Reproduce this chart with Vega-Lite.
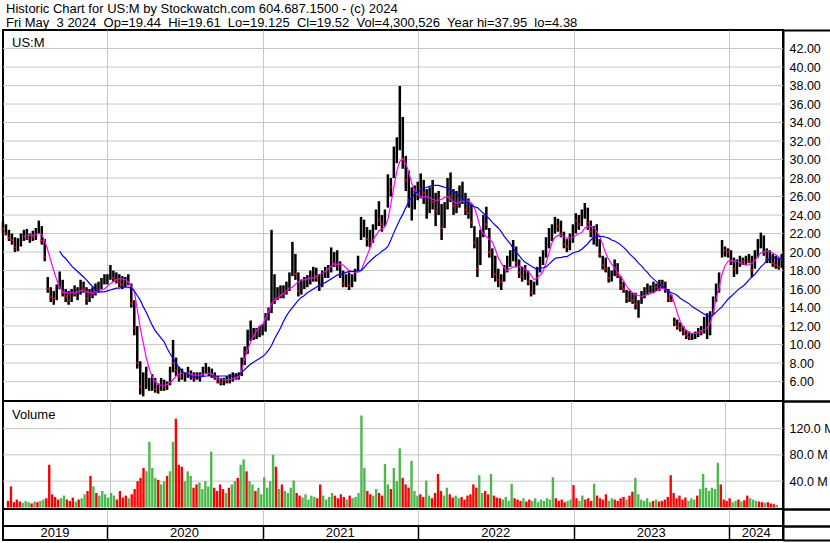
{
"$schema":"https://vega.github.io/schema/vega-lite/v6.json",
"padding":{"top":3,"left":0,"right":0,"bottom":0},
"background":"white",
"spacing":0,
"bounds":"flush",
"title":{"text":["Historic Chart for US:M by Stockwatch.com 604.687.1500 - (c) 2024","Fri May\u00a0 3 2024\u00a0 Op=19.44\u00a0 Hi=19.61\u00a0 Lo=19.125\u00a0 Cl=19.52\u00a0 Vol=4,300,526\u00a0 Year hi=37.95\u00a0 lo=4.38"],"anchor":"start","frame":"group","font":"Liberation Sans","fontSize":13,"fontWeight":"normal","color":"black","lineHeight":14,"offset":-2,"dx":3},
"config":{"view":{"stroke":"black","strokeWidth":2},"axis":{"gridColor":"#c6c6c6","gridWidth":1,"labelFont":"Liberation Sans","labelFontSize":12.5,"labelColor":"black","labelOverlap":false,"title":null},"text":{"font":"Liberation Sans"}},
"datasets":{
"pg":[{"p":6},{"p":8},{"p":10},{"p":12},{"p":14},{"p":16},{"p":18},{"p":20},{"p":22},{"p":24},{"p":26},{"p":28},{"p":30},{"p":32},{"p":34},{"p":36},{"p":38},{"p":40},{"p":42}],
"vg":[{"p":40},{"p":80},{"p":120}],
"yrs":[{"d":"2019-09-02","t":"2019"},{"d":"2020-07-02","t":"2020"},{"d":"2021-07-02","t":"2021"},{"d":"2022-07-02","t":"2022"},{"d":"2023-07-02","t":"2023"},{"d":"2024-03-04","t":"2024"}],
"px":[
{"d":"2019-05-03","o":22.6,"h":23.3,"l":22.0,"c":22.5,"v":10},
{"d":"2019-05-10","o":22.5,"h":23.0,"l":21.8,"c":22.0,"v":32},
{"d":"2019-05-17","o":22.0,"h":22.4,"l":21.2,"c":21.5,"v":8},
{"d":"2019-05-24","o":21.5,"h":22.0,"l":20.8,"c":21.3,"v":12},
{"d":"2019-05-31","o":21.3,"h":21.6,"l":20.0,"c":20.5,"v":9},
{"d":"2019-06-07","o":20.5,"h":21.5,"l":20.1,"c":21.2,"v":7},
{"d":"2019-06-14","o":21.2,"h":22.0,"l":20.6,"c":21.6,"v":10},
{"d":"2019-06-21","o":21.6,"h":22.4,"l":21.2,"c":22.0,"v":8,"m1":21.7},
{"d":"2019-06-28","o":22.0,"h":22.5,"l":21.3,"c":21.5,"v":6,"m1":21.8},
{"d":"2019-07-05","o":21.5,"h":22.0,"l":21.0,"c":21.8,"v":9,"m1":21.8},
{"d":"2019-07-12","o":21.8,"h":22.3,"l":21.2,"c":21.6,"v":8,"m1":21.8},
{"d":"2019-07-19","o":21.6,"h":22.6,"l":21.3,"c":22.4,"v":10,"m1":21.9},
{"d":"2019-07-26","o":22.4,"h":23.4,"l":22.0,"c":22.6,"v":12,"m1":22.0},
{"d":"2019-08-02","o":22.6,"h":22.8,"l":20.8,"c":21.2,"v":14,"m1":21.9},
{"d":"2019-08-09","o":21.2,"h":21.4,"l":19.0,"c":19.5,"v":65,"m1":21.2},
{"d":"2019-08-16","o":17.0,"h":17.3,"l":15.6,"c":16.0,"v":20,"m1":20.2},
{"d":"2019-08-23","o":16.0,"h":16.2,"l":14.6,"c":15.2,"v":16,"m1":19.1},
{"d":"2019-08-30","o":15.2,"h":15.8,"l":14.3,"c":15.0,"v":12,"m1":18.0},
{"d":"2019-09-06","o":15.0,"h":16.5,"l":14.8,"c":16.2,"v":14,"m1":17.0},
{"d":"2019-09-13","o":16.2,"h":17.9,"l":16.0,"c":17.0,"v":18,"m1":16.2,"m2":20.1},
{"d":"2019-09-20","o":17.0,"h":17.0,"l":15.2,"c":15.6,"v":12,"m1":15.7,"m2":19.6},
{"d":"2019-09-27","o":15.6,"h":16.0,"l":14.6,"c":15.2,"v":10,"m1":15.6,"m2":19.3},
{"d":"2019-10-04","o":15.2,"h":15.8,"l":14.3,"c":14.8,"v":15,"m1":15.6,"m2":18.9},
{"d":"2019-10-11","o":14.8,"h":16.0,"l":14.6,"c":15.6,"v":9,"m1":15.6,"m2":18.5},
{"d":"2019-10-18","o":15.6,"h":16.4,"l":15.2,"c":15.5,"v":12,"m1":15.6,"m2":18.2},
{"d":"2019-10-25","o":15.5,"h":16.2,"l":14.8,"c":15.6,"v":14,"m1":15.7,"m2":17.9},
{"d":"2019-11-01","o":15.6,"h":17.0,"l":15.4,"c":16.4,"v":20,"m1":15.8,"m2":17.6},
{"d":"2019-11-08","o":16.4,"h":16.8,"l":15.6,"c":16.0,"v":25,"m1":15.8,"m2":17.3},
{"d":"2019-11-15","o":16.0,"h":16.2,"l":14.3,"c":15.0,"v":48,"m1":15.7,"m2":17.0},
{"d":"2019-11-22","o":15.0,"h":16.0,"l":14.6,"c":15.6,"v":32,"m1":15.6,"m2":16.6},
{"d":"2019-11-29","o":15.6,"h":16.2,"l":15.0,"c":15.5,"v":22,"m1":15.6,"m2":16.3},
{"d":"2019-12-06","o":15.5,"h":16.6,"l":15.3,"c":16.0,"v":18,"m1":15.7,"m2":16.0},
{"d":"2019-12-13","o":16.0,"h":16.8,"l":15.6,"c":16.5,"v":25,"m1":15.8,"m2":15.7},
{"d":"2019-12-20","o":16.5,"h":17.2,"l":16.0,"c":16.9,"v":20,"m1":15.9,"m2":15.7},
{"d":"2019-12-27","o":16.9,"h":17.6,"l":16.5,"c":17.0,"v":15,"m1":16.0,"m2":15.7},
{"d":"2020-01-03","o":17.0,"h":17.6,"l":16.5,"c":17.3,"v":22,"m1":16.3,"m2":15.8},
{"d":"2020-01-10","o":17.3,"h":18.6,"l":17.0,"c":17.6,"v":18,"m1":16.6,"m2":15.9},
{"d":"2020-01-17","o":17.6,"h":18.0,"l":16.8,"c":17.2,"v":12,"m1":16.8,"m2":16.0},
{"d":"2020-01-24","o":17.2,"h":17.8,"l":16.6,"c":17.0,"v":25,"m1":17.0,"m2":16.1},
{"d":"2020-01-31","o":17.0,"h":17.6,"l":16.2,"c":16.8,"v":15,"m1":17.1,"m2":16.1},
{"d":"2020-02-07","o":16.8,"h":17.4,"l":16.0,"c":16.5,"v":18,"m1":17.1,"m2":16.2},
{"d":"2020-02-14","o":16.5,"h":17.3,"l":16.2,"c":16.9,"v":14,"m1":17.0,"m2":16.2},
{"d":"2020-02-21","o":16.9,"h":17.6,"l":16.4,"c":16.6,"v":20,"m1":16.8,"m2":16.2},
{"d":"2020-02-28","o":16.6,"h":16.6,"l":14.0,"c":14.5,"v":28,"m1":16.3,"m2":16.1},
{"d":"2020-03-06","o":14.5,"h":14.8,"l":11.0,"c":11.8,"v":40,"m1":15.8,"m2":15.8},
{"d":"2020-03-13","o":11.8,"h":12.0,"l":7.4,"c":8.0,"v":45,"m1":13.8,"m2":15.3},
{"d":"2020-03-20","o":8.0,"h":8.2,"l":4.6,"c":5.5,"v":60,"m1":11.8,"m2":14.8},
{"d":"2020-03-27","o":5.5,"h":7.0,"l":4.4,"c":6.2,"v":55,"m1":10.2,"m2":14.1},
{"d":"2020-04-03","o":5.4,"h":7.6,"l":5.2,"c":5.6,"v":100,"m1":8.6,"m2":13.5},
{"d":"2020-04-10","o":5.6,"h":6.4,"l":5.0,"c":5.6,"v":60,"m1":7.4,"m2":12.8},
{"d":"2020-04-17","o":5.6,"h":6.8,"l":5.0,"c":6.0,"v":45,"m1":6.5,"m2":12.1},
{"d":"2020-04-24","o":6.0,"h":6.4,"l":4.8,"c":5.2,"v":42,"m1":6.0,"m2":11.5},
{"d":"2020-05-01","o":5.2,"h":5.8,"l":4.7,"c":5.3,"v":35,"m1":5.7,"m2":11.1},
{"d":"2020-05-08","o":5.3,"h":6.4,"l":5.0,"c":5.8,"v":40,"m1":5.6,"m2":10.7},
{"d":"2020-05-15","o":5.8,"h":6.2,"l":5.0,"c":5.4,"v":48,"m1":5.6,"m2":10.3},
{"d":"2020-05-22","o":5.4,"h":6.0,"l":5.1,"c":5.6,"v":55,"m1":5.7,"m2":9.6},
{"d":"2020-05-29","o":5.6,"h":7.6,"l":5.6,"c":7.2,"v":100,"m1":5.9,"m2":9.0},
{"d":"2020-06-05","o":8.6,"h":10.5,"l":7.0,"c":8.0,"v":135,"m1":6.2,"m2":8.5},
{"d":"2020-06-12","o":8.0,"h":8.6,"l":6.6,"c":7.2,"v":65,"m1":6.6,"m2":8.0},
{"d":"2020-06-19","o":7.2,"h":7.6,"l":6.0,"c":6.5,"v":62,"m1":6.8,"m2":7.5},
{"d":"2020-06-26","o":6.5,"h":7.4,"l":6.2,"c":6.6,"v":40,"m1":6.9,"m2":7.1},
{"d":"2020-07-03","o":6.6,"h":7.0,"l":6.0,"c":6.8,"v":55,"m1":6.9,"m2":6.9},
{"d":"2020-07-10","o":6.8,"h":7.6,"l":6.4,"c":7.0,"v":48,"m1":6.9,"m2":6.7},
{"d":"2020-07-17","o":7.0,"h":7.2,"l":6.2,"c":6.6,"v":30,"m1":6.8,"m2":6.55},
{"d":"2020-07-24","o":6.6,"h":7.0,"l":6.0,"c":6.4,"v":35,"m1":6.7,"m2":6.5},
{"d":"2020-07-31","o":6.4,"h":7.0,"l":6.2,"c":6.6,"v":38,"m1":6.7,"m2":6.45},
{"d":"2020-08-07","o":6.6,"h":7.0,"l":6.0,"c":6.8,"v":28,"m1":6.7,"m2":6.5},
{"d":"2020-08-14","o":6.8,"h":7.6,"l":6.6,"c":7.2,"v":40,"m1":6.8,"m2":6.55},
{"d":"2020-08-21","o":7.2,"h":8.0,"l":6.8,"c":7.4,"v":32,"m1":6.9,"m2":6.6},
{"d":"2020-08-28","o":6.6,"h":7.6,"l":6.6,"c":6.8,"v":85,"m1":6.9,"m2":6.6},
{"d":"2020-09-04","o":6.8,"h":7.4,"l":6.4,"c":6.6,"v":30,"m1":6.8,"m2":6.6},
{"d":"2020-09-11","o":6.6,"h":7.0,"l":6.2,"c":6.4,"v":25,"m1":6.6,"m2":6.6},
{"d":"2020-09-18","o":6.4,"h":6.6,"l":5.8,"c":6.0,"v":35,"m1":6.4,"m2":6.6},
{"d":"2020-09-25","o":6.0,"h":6.4,"l":5.6,"c":5.9,"v":28,"m1":6.3,"m2":6.6},
{"d":"2020-10-02","o":5.9,"h":6.4,"l":5.6,"c":6.2,"v":22,"m1":6.2,"m2":6.6},
{"d":"2020-10-09","o":6.2,"h":6.6,"l":5.8,"c":6.0,"v":30,"m1":6.2,"m2":6.6},
{"d":"2020-10-16","o":6.0,"h":6.8,"l":5.8,"c":6.3,"v":35,"m1":6.2,"m2":6.6},
{"d":"2020-10-23","o":6.3,"h":7.0,"l":6.0,"c":6.7,"v":40,"m1":6.3,"m2":6.6},
{"d":"2020-10-30","o":6.7,"h":6.9,"l":6.2,"c":6.5,"v":45,"m1":6.4,"m2":6.6},
{"d":"2020-11-06","o":6.5,"h":7.0,"l":6.2,"c":6.6,"v":65,"m1":6.5,"m2":6.7},
{"d":"2020-11-13","o":6.6,"h":8.6,"l":6.6,"c":8.2,"v":73,"m1":7.2,"m2":7.0},
{"d":"2020-11-20","o":9.6,"h":9.8,"l":7.8,"c":9.2,"v":55,"m1":8.5,"m2":7.3},
{"d":"2020-11-27","o":9.2,"h":11.6,"l":9.0,"c":11.0,"v":40,"m1":9.4,"m2":7.6},
{"d":"2020-12-04","o":11.0,"h":12.6,"l":10.4,"c":11.4,"v":35,"m1":10.3,"m2":7.9},
{"d":"2020-12-11","o":11.4,"h":11.8,"l":10.5,"c":11.0,"v":25,"m1":10.9,"m2":8.1},
{"d":"2020-12-18","o":11.0,"h":11.8,"l":10.6,"c":11.2,"v":30,"m1":11.5,"m2":8.3},
{"d":"2020-12-25","o":11.2,"h":12.0,"l":10.8,"c":11.6,"v":20,"m1":12.0,"m2":8.5},
{"d":"2021-01-01","o":11.0,"h":12.2,"l":11.0,"c":11.3,"v":46,"m1":12.2,"m2":8.7},
{"d":"2021-01-08","o":11.3,"h":13.4,"l":11.4,"c":13.0,"v":30,"m1":12.8,"m2":9.0},
{"d":"2021-01-15","o":13.0,"h":14.0,"l":12.6,"c":13.4,"v":40,"m1":13.6,"m2":9.4},
{"d":"2021-01-22","o":13.4,"h":22.4,"l":13.4,"c":16.0,"v":80,"m1":14.4,"m2":9.9},
{"d":"2021-01-29","o":16.0,"h":17.6,"l":14.4,"c":15.0,"v":62,"m1":14.8,"m2":10.6},
{"d":"2021-02-05","o":15.0,"h":16.2,"l":14.8,"c":15.6,"v":28,"m1":15.0,"m2":11.2},
{"d":"2021-02-12","o":15.6,"h":16.4,"l":15.0,"c":15.4,"v":35,"m1":15.3,"m2":11.8},
{"d":"2021-02-19","o":15.4,"h":16.4,"l":15.0,"c":16.0,"v":25,"m1":15.5,"m2":12.5},
{"d":"2021-02-26","o":16.0,"h":16.8,"l":15.4,"c":16.2,"v":22,"m1":15.8,"m2":13.1},
{"d":"2021-03-05","o":16.2,"h":17.8,"l":15.8,"c":17.4,"v":30,"m1":16.1,"m2":13.6},
{"d":"2021-03-12","o":17.4,"h":21.1,"l":17.4,"c":19.5,"v":41,"m1":16.2,"m2":14.0},
{"d":"2021-03-19","o":19.5,"h":19.8,"l":17.0,"c":17.6,"v":22,"m1":16.5,"m2":14.4},
{"d":"2021-03-26","o":17.6,"h":17.8,"l":15.2,"c":15.8,"v":18,"m1":16.8,"m2":14.8},
{"d":"2021-04-02","o":15.8,"h":17.0,"l":15.4,"c":16.6,"v":15,"m1":17.0,"m2":15.1},
{"d":"2021-04-09","o":16.6,"h":17.3,"l":16.0,"c":16.8,"v":20,"m1":17.0,"m2":15.3},
{"d":"2021-04-16","o":16.8,"h":17.5,"l":16.2,"c":17.0,"v":12,"m1":17.1,"m2":15.6},
{"d":"2021-04-23","o":17.0,"h":18.0,"l":16.5,"c":17.5,"v":18,"m1":17.2,"m2":15.8},
{"d":"2021-04-30","o":17.5,"h":18.4,"l":16.8,"c":17.6,"v":16,"m1":17.2,"m2":16.0},
{"d":"2021-05-07","o":17.6,"h":18.3,"l":16.8,"c":17.2,"v":14,"m1":17.4,"m2":16.2},
{"d":"2021-05-14","o":17.2,"h":17.6,"l":15.8,"c":16.4,"v":35,"m1":17.6,"m2":16.4},
{"d":"2021-05-21","o":16.4,"h":18.0,"l":16.2,"c":17.5,"v":18,"m1":17.7,"m2":16.6},
{"d":"2021-05-28","o":17.5,"h":18.4,"l":17.2,"c":17.8,"v":12,"m1":17.9,"m2":16.7},
{"d":"2021-06-04","o":17.8,"h":18.6,"l":17.2,"c":18.2,"v":16,"m1":18.2,"m2":16.9},
{"d":"2021-06-11","o":18.2,"h":20.5,"l":17.8,"c":19.6,"v":22,"m1":18.5,"m2":17.1},
{"d":"2021-06-18","o":19.6,"h":20.0,"l":18.4,"c":18.8,"v":18,"m1":18.7,"m2":17.3},
{"d":"2021-06-25","o":18.8,"h":20.2,"l":18.0,"c":18.6,"v":14,"m1":18.7,"m2":17.5},
{"d":"2021-07-02","o":18.6,"h":19.0,"l":17.2,"c":17.6,"v":20,"m1":18.7,"m2":17.6},
{"d":"2021-07-09","o":17.6,"h":18.0,"l":16.2,"c":16.6,"v":16,"m1":18.6,"m2":17.7},
{"d":"2021-07-16","o":16.6,"h":17.6,"l":16.2,"c":17.0,"v":12,"m1":18.3,"m2":17.8},
{"d":"2021-07-23","o":17.0,"h":17.8,"l":15.9,"c":16.4,"v":18,"m1":18.0,"m2":17.9},
{"d":"2021-07-30","o":16.4,"h":17.6,"l":16.2,"c":17.2,"v":14,"m1":17.9,"m2":17.9},
{"d":"2021-08-06","o":17.2,"h":18.2,"l":16.8,"c":18.0,"v":16,"m1":17.8,"m2":17.9},
{"d":"2021-08-13","o":18.0,"h":19.6,"l":17.8,"c":19.2,"v":22,"m1":17.9,"m2":18.0},
{"d":"2021-08-20","o":21.5,"h":23.8,"l":21.3,"c":22.6,"v":140,"m1":18.0,"m2":18.0},
{"d":"2021-08-27","o":22.0,"h":23.5,"l":21.6,"c":22.4,"v":60,"m1":18.8,"m2":18.3},
{"d":"2021-09-03","o":22.4,"h":22.7,"l":20.6,"c":21.4,"v":25,"m1":19.6,"m2":18.7},
{"d":"2021-09-10","o":21.4,"h":22.4,"l":20.5,"c":21.0,"v":20,"m1":20.4,"m2":19.0},
{"d":"2021-09-17","o":21.0,"h":23.0,"l":21.0,"c":22.6,"v":18,"m1":21.3,"m2":19.3},
{"d":"2021-09-24","o":22.6,"h":24.6,"l":22.4,"c":24.0,"v":28,"m1":21.8,"m2":19.6},
{"d":"2021-10-01","o":24.0,"h":25.5,"l":22.8,"c":23.5,"v":22,"m1":22.3,"m2":19.8},
{"d":"2021-10-08","o":23.5,"h":24.0,"l":22.2,"c":23.0,"v":18,"m1":22.5,"m2":20.1},
{"d":"2021-10-15","o":23.0,"h":24.6,"l":22.8,"c":24.2,"v":66,"m1":22.7,"m2":20.3},
{"d":"2021-10-22","o":24.2,"h":28.4,"l":24.8,"c":27.6,"v":35,"m1":23.5,"m2":20.6},
{"d":"2021-10-29","o":27.6,"h":28.0,"l":26.0,"c":27.0,"v":28,"m1":25.2,"m2":21.3},
{"d":"2021-11-05","o":27.0,"h":31.4,"l":28.0,"c":30.5,"v":60,"m1":27.0,"m2":22.1},
{"d":"2021-11-12","o":30.5,"h":32.4,"l":29.6,"c":31.8,"v":40,"m1":28.8,"m2":22.8},
{"d":"2021-11-19","o":31.8,"h":37.95,"l":31.0,"c":34.6,"v":90,"m1":29.8,"m2":23.5},
{"d":"2021-11-26","o":34.6,"h":34.6,"l":29.0,"c":30.0,"v":45,"m1":30.1,"m2":24.1},
{"d":"2021-12-03","o":30.0,"h":30.4,"l":26.6,"c":27.8,"v":35,"m1":29.6,"m2":24.8},
{"d":"2021-12-10","o":27.8,"h":28.8,"l":24.8,"c":25.6,"v":30,"m1":28.6,"m2":25.4},
{"d":"2021-12-17","o":25.6,"h":27.0,"l":23.4,"c":25.8,"v":71,"m1":27.4,"m2":25.9},
{"d":"2021-12-24","o":25.8,"h":27.2,"l":24.6,"c":26.0,"v":25,"m1":26.7,"m2":26.3},
{"d":"2021-12-31","o":26.0,"h":27.6,"l":25.6,"c":27.0,"v":18,"m1":26.2,"m2":26.5},
{"d":"2022-01-07","o":27.0,"h":28.5,"l":25.8,"c":26.8,"v":20,"m1":26.0,"m2":26.7},
{"d":"2022-01-14","o":26.8,"h":27.8,"l":25.2,"c":26.4,"v":16,"m1":26.0,"m2":26.9},
{"d":"2022-01-21","o":24.2,"h":26.8,"l":23.6,"c":24.6,"v":41,"m1":26.0,"m2":27.0},
{"d":"2022-01-28","o":24.6,"h":27.0,"l":24.2,"c":25.8,"v":18,"m1":25.9,"m2":27.1},
{"d":"2022-02-04","o":25.8,"h":27.8,"l":24.6,"c":25.4,"v":14,"m1":25.7,"m2":27.2},
{"d":"2022-02-11","o":25.4,"h":26.4,"l":22.8,"c":24.4,"v":22,"m1":25.6,"m2":27.2},
{"d":"2022-02-18","o":26.2,"h":26.6,"l":24.0,"c":25.8,"v":51,"m1":25.6,"m2":27.2},
{"d":"2022-02-25","o":25.0,"h":25.2,"l":21.3,"c":22.6,"v":25,"m1":25.7,"m2":27.1},
{"d":"2022-03-04","o":22.6,"h":25.4,"l":22.6,"c":24.8,"v":18,"m1":25.9,"m2":27.0},
{"d":"2022-03-11","o":24.8,"h":28.0,"l":24.6,"c":26.4,"v":30,"m1":26.0,"m2":26.9},
{"d":"2022-03-18","o":26.4,"h":28.6,"l":25.4,"c":26.0,"v":20,"m1":25.7,"m2":26.7},
{"d":"2022-03-25","o":26.0,"h":26.8,"l":24.0,"c":25.0,"v":15,"m1":25.4,"m2":26.5},
{"d":"2022-04-01","o":25.0,"h":26.6,"l":24.2,"c":25.6,"v":18,"m1":25.3,"m2":26.3},
{"d":"2022-04-08","o":25.6,"h":27.2,"l":24.8,"c":26.4,"v":14,"m1":25.4,"m2":26.0},
{"d":"2022-04-15","o":26.4,"h":27.6,"l":25.2,"c":25.8,"v":16,"m1":25.5,"m2":25.8},
{"d":"2022-04-22","o":25.8,"h":26.4,"l":24.0,"c":24.6,"v":12,"m1":25.5,"m2":25.5},
{"d":"2022-04-29","o":24.6,"h":25.8,"l":23.6,"c":24.2,"v":18,"m1":25.5,"m2":25.3},
{"d":"2022-05-06","o":24.2,"h":25.2,"l":22.6,"c":23.2,"v":20,"m1":25.3,"m2":25.1},
{"d":"2022-05-13","o":22.8,"h":22.8,"l":20.4,"c":21.0,"v":35,"m1":24.8,"m2":24.9},
{"d":"2022-05-20","o":21.0,"h":21.6,"l":17.3,"c":18.2,"v":30,"m1":23.8,"m2":24.8},
{"d":"2022-05-27","o":18.2,"h":22.4,"l":18.6,"c":22.0,"v":49,"m1":22.6,"m2":24.5},
{"d":"2022-06-03","o":22.0,"h":24.0,"l":21.6,"c":23.2,"v":22,"m1":22.0,"m2":24.2},
{"d":"2022-06-10","o":23.2,"h":24.9,"l":22.4,"c":23.0,"v":25,"m1":21.7,"m2":23.9},
{"d":"2022-06-17","o":22.6,"h":22.6,"l":19.4,"c":20.0,"v":20,"m1":21.4,"m2":23.6},
{"d":"2022-06-24","o":17.6,"h":20.4,"l":17.2,"c":18.0,"v":51,"m1":21.1,"m2":23.2},
{"d":"2022-07-01","o":18.0,"h":19.6,"l":16.8,"c":17.6,"v":18,"m1":20.3,"m2":22.9},
{"d":"2022-07-08","o":17.6,"h":18.2,"l":16.2,"c":17.0,"v":15,"m1":19.4,"m2":22.6},
{"d":"2022-07-15","o":17.0,"h":17.6,"l":15.9,"c":16.8,"v":14,"m1":18.8,"m2":22.2},
{"d":"2022-07-22","o":16.8,"h":18.6,"l":16.8,"c":18.2,"v":12,"m1":18.3,"m2":21.7},
{"d":"2022-07-29","o":18.2,"h":19.6,"l":17.8,"c":19.0,"v":16,"m1":18.0,"m2":21.3},
{"d":"2022-08-05","o":19.0,"h":20.2,"l":18.4,"c":19.6,"v":10,"m1":18.2,"m2":20.9},
{"d":"2022-08-12","o":19.6,"h":21.3,"l":19.0,"c":20.4,"v":36,"m1":18.4,"m2":20.4},
{"d":"2022-08-19","o":20.4,"h":20.6,"l":18.4,"c":18.8,"v":14,"m1":18.4,"m2":20.0},
{"d":"2022-08-26","o":18.8,"h":19.2,"l":17.2,"c":17.8,"v":12,"m1":18.4,"m2":19.6},
{"d":"2022-09-02","o":17.8,"h":18.4,"l":16.8,"c":17.4,"v":10,"m1":18.4,"m2":19.2},
{"d":"2022-09-09","o":17.4,"h":18.6,"l":17.0,"c":17.8,"v":14,"m1":18.2,"m2":18.9},
{"d":"2022-09-16","o":17.8,"h":18.0,"l":16.4,"c":16.8,"v":9,"m1":17.9,"m2":18.7},
{"d":"2022-09-23","o":16.8,"h":17.0,"l":15.2,"c":15.6,"v":12,"m1":17.5,"m2":18.5},
{"d":"2022-09-30","o":15.6,"h":16.8,"l":15.4,"c":16.4,"v":10,"m1":17.0,"m2":18.3},
{"d":"2022-10-07","o":16.4,"h":18.4,"l":16.4,"c":18.0,"v":14,"m1":17.2,"m2":18.1},
{"d":"2022-10-14","o":18.0,"h":19.5,"l":17.8,"c":19.0,"v":8,"m1":17.5,"m2":18.2},
{"d":"2022-10-21","o":19.0,"h":20.2,"l":18.6,"c":19.8,"v":12,"m1":17.9,"m2":18.3},
{"d":"2022-10-28","o":19.8,"h":21.6,"l":19.4,"c":21.0,"v":10,"m1":18.8,"m2":18.4},
{"d":"2022-11-04","o":21.0,"h":22.6,"l":20.4,"c":21.8,"v":14,"m1":19.9,"m2":18.7},
{"d":"2022-11-11","o":21.8,"h":23.0,"l":21.2,"c":22.4,"v":12,"m1":21.0,"m2":19.0},
{"d":"2022-11-18","o":22.4,"h":23.8,"l":22.0,"c":23.2,"v":46,"m1":21.6,"m2":19.3},
{"d":"2022-11-25","o":23.2,"h":23.6,"l":22.2,"c":22.8,"v":14,"m1":21.8,"m2":19.4},
{"d":"2022-12-02","o":22.8,"h":23.4,"l":21.6,"c":22.0,"v":10,"m1":21.8,"m2":19.4},
{"d":"2022-12-09","o":22.0,"h":22.2,"l":20.4,"c":20.8,"v":12,"m1":21.7,"m2":19.5},
{"d":"2022-12-16","o":20.8,"h":21.4,"l":20.0,"c":20.6,"v":8,"m1":21.5,"m2":19.5},
{"d":"2022-12-23","o":20.6,"h":22.0,"l":20.2,"c":21.2,"v":10,"m1":21.5,"m2":19.7},
{"d":"2022-12-30","o":21.2,"h":23.0,"l":21.0,"c":22.4,"v":12,"m1":21.6,"m2":19.9},
{"d":"2023-01-06","o":23.8,"h":24.2,"l":22.0,"c":23.4,"v":34,"m1":21.8,"m2":20.0},
{"d":"2023-01-13","o":23.4,"h":24.0,"l":22.4,"c":23.0,"v":14,"m1":22.0,"m2":20.1},
{"d":"2023-01-20","o":23.0,"h":24.6,"l":22.8,"c":24.0,"v":10,"m1":22.1,"m2":20.3},
{"d":"2023-01-27","o":24.0,"h":25.3,"l":23.6,"c":24.2,"v":18,"m1":22.6,"m2":20.6},
{"d":"2023-02-03","o":24.2,"h":24.8,"l":22.4,"c":23.2,"v":12,"m1":22.8,"m2":20.9},
{"d":"2023-02-10","o":23.2,"h":23.4,"l":21.6,"c":22.2,"v":14,"m1":22.8,"m2":21.3},
{"d":"2023-02-17","o":22.2,"h":22.8,"l":20.8,"c":21.6,"v":10,"m1":22.6,"m2":21.6},
{"d":"2023-02-24","o":21.0,"h":23.0,"l":20.6,"c":21.2,"v":36,"m1":22.2,"m2":21.7},
{"d":"2023-03-03","o":21.2,"h":21.4,"l":19.4,"c":19.8,"v":18,"m1":21.7,"m2":21.7},
{"d":"2023-03-10","o":19.6,"h":19.6,"l":18.1,"c":18.6,"v":14,"m1":20.8,"m2":21.7},
{"d":"2023-03-17","o":18.6,"h":19.4,"l":17.8,"c":18.2,"v":12,"m1":19.9,"m2":21.6},
{"d":"2023-03-24","o":18.2,"h":18.4,"l":16.7,"c":17.2,"v":20,"m1":19.2,"m2":21.5},
{"d":"2023-03-31","o":17.2,"h":18.0,"l":16.8,"c":17.6,"v":10,"m1":18.7,"m2":21.3},
{"d":"2023-04-07","o":17.6,"h":19.2,"l":17.4,"c":18.6,"v":14,"m1":18.3,"m2":21.2},
{"d":"2023-04-14","o":18.6,"h":18.8,"l":17.2,"c":17.6,"v":12,"m1":17.8,"m2":21.0},
{"d":"2023-04-21","o":17.4,"h":17.4,"l":15.9,"c":16.4,"v":10,"m1":17.4,"m2":20.8},
{"d":"2023-04-28","o":16.4,"h":16.8,"l":15.6,"c":16.0,"v":14,"m1":16.9,"m2":20.5},
{"d":"2023-05-05","o":15.9,"h":15.9,"l":14.5,"c":15.0,"v":16,"m1":16.3,"m2":20.2},
{"d":"2023-05-12","o":15.0,"h":15.8,"l":14.6,"c":15.2,"v":12,"m1":15.9,"m2":19.8},
{"d":"2023-05-19","o":15.2,"h":15.6,"l":14.4,"c":14.8,"v":18,"m1":15.6,"m2":19.5},
{"d":"2023-05-26","o":14.8,"h":15.6,"l":13.8,"c":14.4,"v":24,"m1":15.4,"m2":19.2},
{"d":"2023-06-02","o":13.6,"h":14.8,"l":12.9,"c":14.2,"v":45,"m1":15.3,"m2":18.8},
{"d":"2023-06-09","o":14.2,"h":15.8,"l":14.4,"c":15.4,"v":20,"m1":15.2,"m2":18.5},
{"d":"2023-06-16","o":15.4,"h":16.2,"l":15.0,"c":15.8,"v":12,"m1":15.3,"m2":18.1},
{"d":"2023-06-23","o":15.8,"h":16.6,"l":15.4,"c":16.0,"v":10,"m1":15.4,"m2":17.8},
{"d":"2023-06-30","o":16.0,"h":16.4,"l":15.6,"c":16.2,"v":14,"m1":15.5,"m2":17.4},
{"d":"2023-07-07","o":16.2,"h":16.8,"l":15.6,"c":16.4,"v":8,"m1":15.6,"m2":17.1},
{"d":"2023-07-14","o":16.4,"h":16.6,"l":15.8,"c":16.2,"v":10,"m1":15.8,"m2":16.8},
{"d":"2023-07-21","o":16.2,"h":17.0,"l":15.8,"c":16.6,"v":12,"m1":16.0,"m2":16.5},
{"d":"2023-07-28","o":16.6,"h":17.0,"l":16.0,"c":16.4,"v":9,"m1":16.1,"m2":16.3},
{"d":"2023-08-04","o":16.4,"h":16.8,"l":15.6,"c":16.0,"v":10,"m1":16.0,"m2":16.1},
{"d":"2023-08-11","o":16.0,"h":16.0,"l":14.6,"c":15.0,"v":12,"m1":15.8,"m2":15.8},
{"d":"2023-08-18","o":15.0,"h":15.4,"l":14.6,"c":14.8,"v":16,"m1":15.4,"m2":15.6},
{"d":"2023-08-25","o":12.8,"h":12.9,"l":12.0,"c":12.4,"v":49,"m1":14.5,"m2":15.5},
{"d":"2023-09-01","o":12.4,"h":12.7,"l":11.6,"c":12.0,"v":22,"m1":13.4,"m2":15.3},
{"d":"2023-09-08","o":12.0,"h":12.4,"l":11.4,"c":11.8,"v":14,"m1":12.5,"m2":15.0},
{"d":"2023-09-15","o":11.8,"h":12.0,"l":11.0,"c":11.4,"v":18,"m1":11.9,"m2":14.8},
{"d":"2023-09-22","o":11.4,"h":11.6,"l":10.6,"c":11.0,"v":12,"m1":11.5,"m2":14.6},
{"d":"2023-09-29","o":11.0,"h":11.4,"l":10.5,"c":10.8,"v":15,"m1":11.3,"m2":14.4},
{"d":"2023-10-06","o":10.8,"h":11.2,"l":10.5,"c":10.9,"v":10,"m1":11.2,"m2":14.1},
{"d":"2023-10-13","o":10.9,"h":11.4,"l":10.6,"c":11.2,"v":14,"m1":11.2,"m2":13.9},
{"d":"2023-10-20","o":11.2,"h":11.8,"l":10.8,"c":11.6,"v":12,"m1":11.3,"m2":13.7},
{"d":"2023-10-27","o":11.6,"h":12.0,"l":11.0,"c":11.4,"v":18,"m1":11.5,"m2":13.5},
{"d":"2023-11-03","o":11.4,"h":13.0,"l":11.2,"c":12.6,"v":28,"m1":11.6,"m2":13.3},
{"d":"2023-11-10","o":11.0,"h":13.4,"l":10.6,"c":11.2,"v":51,"m1":11.8,"m2":13.1},
{"d":"2023-11-17","o":11.2,"h":13.6,"l":11.0,"c":13.4,"v":30,"m1":12.3,"m2":13.0},
{"d":"2023-11-24","o":13.4,"h":15.2,"l":13.2,"c":14.8,"v":25,"m1":13.4,"m2":13.2},
{"d":"2023-12-01","o":14.8,"h":16.6,"l":14.6,"c":16.0,"v":30,"m1":14.9,"m2":13.5},
{"d":"2023-12-08","o":16.0,"h":17.8,"l":15.6,"c":17.4,"v":28,"m1":16.2,"m2":13.8},
{"d":"2023-12-15","o":17.4,"h":21.3,"l":19.4,"c":20.2,"v":68,"m1":17.6,"m2":14.1},
{"d":"2023-12-22","o":20.4,"h":20.6,"l":19.5,"c":20.2,"v":35,"m1":18.5,"m2":14.5},
{"d":"2023-12-29","o":20.2,"h":20.4,"l":19.4,"c":20.0,"v":12,"m1":19.0,"m2":14.9},
{"d":"2024-01-05","o":20.0,"h":20.2,"l":18.6,"c":19.0,"v":10,"m1":19.1,"m2":15.2},
{"d":"2024-01-12","o":19.0,"h":19.4,"l":17.3,"c":18.2,"v":14,"m1":19.0,"m2":15.5},
{"d":"2024-01-19","o":18.2,"h":19.2,"l":17.6,"c":18.4,"v":8,"m1":19.0,"m2":15.8},
{"d":"2024-01-26","o":18.4,"h":19.6,"l":18.4,"c":19.2,"v":10,"m1":18.9,"m2":16.1},
{"d":"2024-02-02","o":19.2,"h":19.4,"l":18.6,"c":19.0,"v":12,"m1":18.7,"m2":16.3},
{"d":"2024-02-09","o":19.0,"h":19.6,"l":18.6,"c":19.4,"v":9,"m1":18.6,"m2":16.6},
{"d":"2024-02-16","o":19.4,"h":19.8,"l":18.8,"c":19.0,"v":11,"m1":18.6,"m2":17.0},
{"d":"2024-02-23","o":19.0,"h":19.6,"l":17.3,"c":18.0,"v":18,"m1":18.8,"m2":17.3},
{"d":"2024-03-01","o":18.0,"h":20.2,"l":18.2,"c":19.8,"v":14,"m1":19.1,"m2":17.6},
{"d":"2024-03-08","o":19.8,"h":21.4,"l":19.4,"c":20.6,"v":12,"m1":19.5,"m2":18.0},
{"d":"2024-03-15","o":20.6,"h":22.1,"l":20.4,"c":21.6,"v":10,"m1":19.9,"m2":18.4},
{"d":"2024-03-22","o":21.6,"h":21.8,"l":19.6,"c":20.0,"v":9,"m1":20.0,"m2":18.7},
{"d":"2024-03-29","o":20.0,"h":20.4,"l":18.8,"c":19.2,"v":8,"m1":20.1,"m2":19.1},
{"d":"2024-04-05","o":19.2,"h":20.2,"l":18.8,"c":19.6,"v":7,"m1":20.1,"m2":19.3},
{"d":"2024-04-12","o":19.6,"h":19.8,"l":18.4,"c":18.8,"v":8,"m1":19.9,"m2":19.4},
{"d":"2024-04-19","o":18.8,"h":19.6,"l":18.2,"c":18.6,"v":6,"m1":19.7,"m2":19.4},
{"d":"2024-04-26","o":18.6,"h":19.4,"l":18.1,"c":18.4,"v":5,"m1":19.5,"m2":19.3},
{"d":"2024-05-03","o":18.4,"h":19.8,"l":18.3,"c":19.52,"v":4,"m1":19.1,"m2":19.2}
]},
"vconcat":[
{"width":780,"height":371,
 "title":{"text":"US:M","orient":"none","anchor":"start","frame":"group","dx":9,"dy":16.5,"baseline":"alphabetic","font":"Liberation Sans","fontSize":13,"fontWeight":"normal","color":"black"},
 "data":{"name":"px"},
 "layer":[
  {"data":{"name":"pg"},"mark":{"type":"rule","color":"#c6c6c6","strokeWidth":1},"encoding":{"y":{"field":"p","type":"quantitative"}}},
  {"encoding":{"x":{"field":"d","type":"temporal","scale":{"type":"utc","domain":[{"year":2019,"month":5,"date":3,"utc":true},{"year":2024,"month":5,"date":6,"utc":true}],"nice":false},"axis":{"values":[{"year":2020,"month":1,"date":1,"utc":true},{"year":2021,"month":1,"date":1,"utc":true},{"year":2022,"month":1,"date":1,"utc":true},{"year":2023,"month":1,"date":1,"utc":true},{"year":2024,"month":1,"date":1,"utc":true}],"grid":true,"labels":false,"ticks":false,"domain":false,"title":null}}},
   "layer":[
    {"mark":{"type":"rule","color":"black","strokeWidth":2.5},
     "encoding":{"y":{"field":"l","type":"quantitative","scale":{"domain":[3.9,44],"nice":false,"zero":false},"axis":{"orient":"right","values":[3.9,6,8,10,12,14,16,18,20,22,24,26,28,30,32,34,36,38,40,42,44],"tickCount":100,"labelExpr":"datum.value < 5 || datum.value > 43 ? '' : format(datum.value, '.2f')","labelOverlap":false,"labelFontSize":{"condition":{"test":"datum.value < 5 || datum.value > 43","value":0},"value":12.5},"grid":false,"domain":true,"domainColor":"black","domainWidth":2,"ticks":true,"tickSize":49,"tickWidth":2,"tickColor":{"condition":{"test":"datum.value < 5 || datum.value > 43","value":"black"},"value":"rgba(0,0,0,0)"},"labelPadding":-43,"title":null}},"y2":{"field":"h"}}},
    {"transform":[{"filter":"datum.c < datum.o"}],"mark":{"type":"tick","color":"#ff0000","orient":"horizontal","size":3,"thickness":2},
     "encoding":{"y":{"field":"c","type":"quantitative"}}},
    {"mark":{"type":"line","color":"#ff00ff","strokeWidth":1.2},"encoding":{"y":{"field":"m1","type":"quantitative"}}},
    {"mark":{"type":"line","color":"#0000ff","strokeWidth":1.2},"encoding":{"y":{"field":"m2","type":"quantitative"}}}
   ]}
 ]},
{"width":780,"height":108,
 "title":{"text":"Volume","orient":"none","anchor":"start","frame":"group","dx":9,"dy":17.5,"baseline":"alphabetic","font":"Liberation Sans","fontSize":13,"fontWeight":"normal","color":"black"},
 "data":{"name":"px"},
 "layer":[
  {"data":{"name":"vg"},"mark":{"type":"rule","color":"#c6c6c6","strokeWidth":1},"encoding":{"y":{"field":"p","type":"quantitative"}}},
  {"mark":{"type":"bar","size":2.4},
   "encoding":{
    "x":{"field":"d","type":"temporal","scale":{"type":"utc","domain":[{"year":2019,"month":5,"date":3,"utc":true},{"year":2024,"month":5,"date":6,"utc":true}],"nice":false},"axis":{"values":[{"year":2020,"month":1,"date":1,"utc":true},{"year":2021,"month":1,"date":1,"utc":true},{"year":2022,"month":1,"date":1,"utc":true},{"year":2023,"month":1,"date":1,"utc":true},{"year":2024,"month":1,"date":1,"utc":true}],"grid":true,"labels":false,"ticks":false,"domain":false,"title":null}},
    "y":{"field":"v","type":"quantitative","scale":{"domain":[-2.4,162],"nice":false,"zero":false},"axis":{"orient":"right","values":[-2.4,40,80,120,162],"tickCount":100,"labelExpr":"datum.value < 0 || datum.value > 150 ? '' : format(datum.value,'.1f') + ' M'","labelOverlap":false,"labelFontSize":{"condition":{"test":"datum.value < 0 || datum.value > 150","value":0},"value":12.5},"grid":false,"domain":true,"domainColor":"black","domainWidth":2,"ticks":true,"tickSize":49,"tickWidth":2,"tickColor":{"condition":{"test":"datum.value < 0 || datum.value > 150","value":"black"},"value":"rgba(0,0,0,0)"},"labelPadding":-43,"title":null}},
    "color":{"condition":{"test":"datum.c >= datum.o","value":"#4cb84c"},"value":"#ff0000"}}}
 ]},
{"width":780,"height":17,
 "data":{"name":"yrs"},
 "mark":{"type":"point","opacity":0},
 "encoding":{"x":{"field":"d","type":"temporal","scale":{"type":"utc","domain":[{"year":2019,"month":5,"date":3,"utc":true},{"year":2024,"month":5,"date":6,"utc":true}],"nice":false},"axis":{"values":[{"year":2020,"month":1,"date":1,"utc":true},{"year":2021,"month":1,"date":1,"utc":true},{"year":2022,"month":1,"date":1,"utc":true},{"year":2023,"month":1,"date":1,"utc":true},{"year":2024,"month":1,"date":1,"utc":true}],"grid":true,"labels":false,"ticks":false,"domain":false,"title":null}},
  "y":{"datum":0.5,"type":"quantitative","scale":{"domain":[0,1]},"axis":{"orient":"right","values":[0,1],"labels":false,"grid":false,"domain":true,"domainColor":"black","domainWidth":2,"ticks":true,"tickSize":49,"tickWidth":2,"tickColor":"black","title":null}}}},
{"width":780,"height":14,
 "data":{"name":"yrs"},
 "mark":{"type":"text","font":"Liberation Sans","fontSize":13,"color":"black"},
 "encoding":{"x":{"field":"d","type":"temporal","scale":{"type":"utc","domain":[{"year":2019,"month":5,"date":3,"utc":true},{"year":2024,"month":5,"date":6,"utc":true}],"nice":false},"axis":{"values":[{"year":2020,"month":1,"date":1,"utc":true},{"year":2021,"month":1,"date":1,"utc":true},{"year":2022,"month":1,"date":1,"utc":true},{"year":2023,"month":1,"date":1,"utc":true},{"year":2024,"month":1,"date":1,"utc":true}],"grid":true,"gridColor":"black","gridWidth":1.5,"labels":false,"ticks":false,"domain":false,"title":null}},
  "y":{"datum":0.5,"type":"quantitative","scale":{"domain":[0,1]},"axis":{"orient":"right","values":[0,1],"labels":false,"grid":false,"domain":true,"domainColor":"black","domainWidth":2,"ticks":true,"tickSize":49,"tickWidth":2,"tickColor":"black","title":null}},
  "text":{"field":"t"}}}
]
}
